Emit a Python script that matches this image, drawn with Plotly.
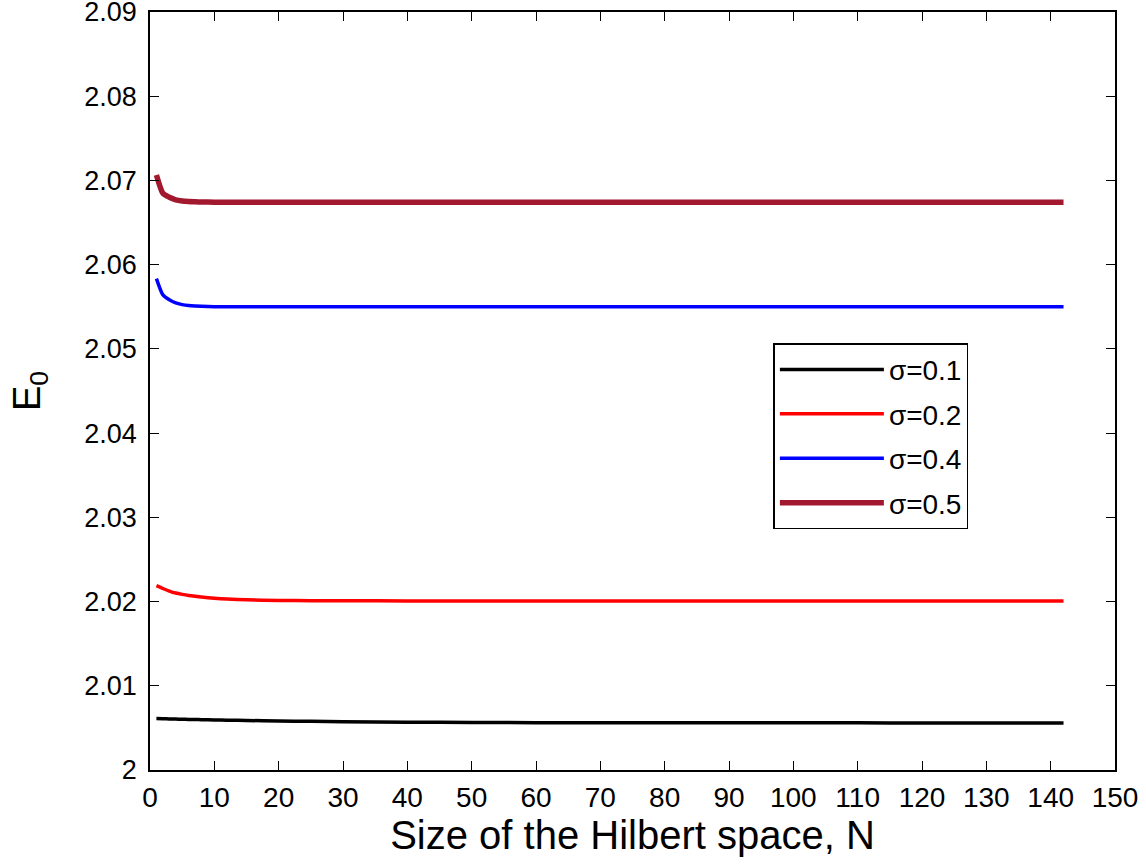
import plotly.graph_objects as go

N = [1, 2, 3, 4, 5, 6, 7, 8, 10, 12, 15, 20, 25, 30, 40, 50, 60, 70, 80, 90, 100, 110, 120, 130, 142]

E_s01 = [2.00611, 2.00609, 2.00607, 2.00605, 2.00603, 2.00601, 2.00600, 2.00598, 2.00595, 2.00592,
         2.00588, 2.00582, 2.00578, 2.00574, 2.00568, 2.00564, 2.00562, 2.00561, 2.00560, 2.00560,
         2.00560, 2.00560, 2.00559, 2.00559, 2.00559]
E_s02 = [2.02188, 2.02155, 2.02125, 2.02101, 2.02085, 2.02072, 2.02062, 2.02053, 2.02040, 2.02030,
         2.02020, 2.02013, 2.02010, 2.02009, 2.02008, 2.02007, 2.02007, 2.02007, 2.02007, 2.02007,
         2.02007, 2.02007, 2.02007, 2.02007, 2.02007]
E_s04 = [2.05834, 2.05641, 2.05583, 2.05546, 2.05526, 2.05514, 2.05508, 2.05505, 2.05501, 2.05500,
         2.05499, 2.05499, 2.05499, 2.05499, 2.05499, 2.05499, 2.05499, 2.05499, 2.05499, 2.05499,
         2.05499, 2.05499, 2.05499, 2.05499, 2.05499]
E_s05 = [2.07064, 2.06847, 2.06800, 2.06770, 2.06756, 2.06749, 2.06746, 2.06744, 2.06742, 2.06741,
         2.06741, 2.06741, 2.06741, 2.06741, 2.06741, 2.06741, 2.06741, 2.06741, 2.06741, 2.06741,
         2.06741, 2.06741, 2.06741, 2.06741, 2.06741]

series_names = ["σ=0.1", "σ=0.2", "σ=0.4", "σ=0.5"]
series_vals = [E_s01, E_s02, E_s04, E_s05]
colors = ["#000000", "#FF0000", "#0000FF", "#A2192F"]
widths = [3.5, 3.5, 3.5, 5.5]

x_ticks = list(range(0, 151, 10))
y_ticks = [2, 2.01, 2.02, 2.03, 2.04, 2.05, 2.06, 2.07, 2.08, 2.09]
y_ticktext = ["2", "2.01", "2.02", "2.03", "2.04", "2.05", "2.06", "2.07", "2.08", "2.09"]

fig = go.Figure()
for i, (name, vals, c, w) in enumerate(zip(series_names, series_vals, colors, widths)):
    fig.add_trace(go.Scatter(x=N, y=vals, mode="lines", name=name,
                             line=dict(color=c, width=w, shape="spline", smoothing=0.6),
                             legendgroup=f"g{i}"))

font_family = "Liberation Sans, Arial, sans-serif"
fig.update_layout(
    width=1146, height=867,
    margin=dict(l=150, r=31, t=12, b=97, autoexpand=False),
    paper_bgcolor="white", plot_bgcolor="white",
    font=dict(family=font_family, color="black", size=28),
    showlegend=True,
    legend=dict(x=0.646, y=0.563, xanchor="left", yanchor="top",
                bgcolor="white", bordercolor="black", borderwidth=1.5,
                font=dict(size=28, family=font_family), tracegroupgap=5,
                itemwidth=104),
    xaxis=dict(range=[0, 150], tickvals=x_ticks, ticks="inside", ticklen=9, tickwidth=1,
               tickcolor="black", showline=True, linecolor="black", linewidth=1.5,
               mirror="ticks", showgrid=False, zeroline=False, automargin=False,
               ticklabeloverflow="allow",
               tickfont=dict(size=28), ticklabelstandoff=2,
               title=dict(text="Size of the Hilbert space, N", font=dict(size=40), standoff=4)),
    yaxis=dict(range=[2, 2.09], tickvals=y_ticks, ticktext=y_ticktext, ticks="inside",
               ticklen=9, tickwidth=1, tickcolor="black", showline=True, linecolor="black",
               linewidth=1.5, mirror="ticks", showgrid=False, zeroline=False, automargin=False,
               ticklabeloverflow="allow",
               tickfont=dict(size=27), ticklabelstandoff=6,
               title=dict(text="E<sub>0</sub>", font=dict(size=38), standoff=32)),
)

fig.write_html("out.html", config={"displayModeBar": False},
               post_script="document.body.style.margin='0';")
